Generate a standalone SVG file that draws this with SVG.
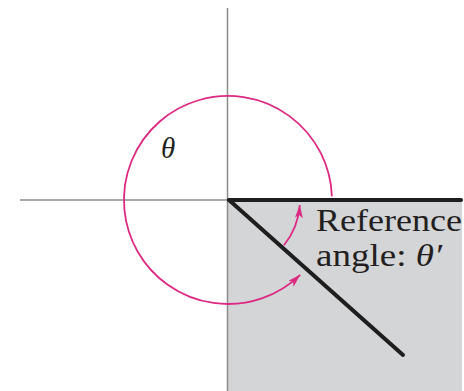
<svg xmlns="http://www.w3.org/2000/svg" width="464" height="391" viewBox="0 0 464 391">
<style>
.axis{stroke:#8c8c8c;stroke-width:1.5;fill:none}
.ray{stroke:#1e1e1e;stroke-width:4;stroke-linecap:round;fill:none}
.arc{stroke:#dc2a82;stroke-width:1.8;fill:none}
.lbl{font-family:"Liberation Serif","Times New Roman",serif;fill:#231f20}
</style>
<defs>
<marker id="ah" markerUnits="userSpaceOnUse" markerWidth="13" markerHeight="8" refX="13" refY="4" orient="auto">
<path d="M0,0 L13,4 L0,8 L3,4 z" fill="#dc2a82"/>
</marker>
</defs>
<rect id="region" x="228" y="200" width="234" height="191" fill="#d4d5d7"/>
<g id="axes">
<line class="axis" x1="20" y1="200" x2="462" y2="200"/>
<line class="axis" x1="227.5" y1="8" x2="227.5" y2="391"/>
</g>
<g id="rays">
<line class="ray" x1="229" y1="200" x2="461" y2="200"/>
<line class="ray" x1="229" y1="200" x2="403" y2="355"/>
</g>
<g id="connectors">
<path class="arc" d="M331.9,196.4 A104,104 0 1 0 300.2,274.8" marker-end="url(#ah)"/>
<path class="arc" d="M283.9,245.3 A72,72 0 0 0 299.8,205" marker-end="url(#ah)"/>
</g>
<g id="labels">
<text class="lbl" x="161" y="158" font-size="29" font-style="italic">θ</text>
<text class="lbl" x="316" y="231" font-size="31.5" textLength="146" lengthAdjust="spacingAndGlyphs">Reference</text>
<text class="lbl" x="316" y="266" font-size="31.5" textLength="126" lengthAdjust="spacingAndGlyphs">angle: <tspan font-style="italic">θ′</tspan></text>
</g>
</svg>
